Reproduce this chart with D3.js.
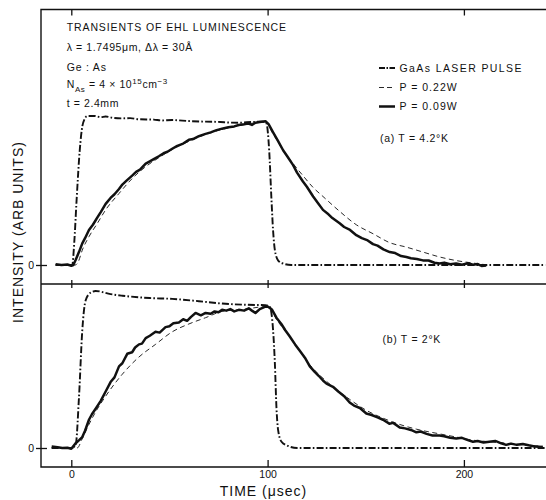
<!DOCTYPE html>
<html><head><meta charset="utf-8">
<script src="https://cdn.jsdelivr.net/npm/d3@7"></script>
<style>
html,body{margin:0;padding:0;background:#fff;}
text{font-family:"Liberation Sans",Arial,sans-serif;fill:#111;}
</style></head>
<body><svg id="c" width="546" height="500"></svg>
<script>
// ---- data (time in µsec, intensity in arbitrary units, laser peak ≈ 1) ----
const xTicks = [0, 100, 200];
const xTickLabels = ["0", "100", "200"];
const yTicks = [0];
const seriesNames = ["GaAs LASER PULSE", "P = 0.22W", "P = 0.09W"];

// panel (a) T = 4.2°K
const laserA = [[-8,0],[0,0],[0.5,0],[1.5,0.15],[2.7,0.436],[4.3,0.77],[5.6,0.93],[6.8,0.98],[8.1,1.0],[12,1.0],[15,0.992],[17.5,0.997],[21,0.988],[26,0.984],[30,0.986],[34.5,0.978],[42,0.976],[46,0.97],[51.4,0.973],[60,0.966],[68.4,0.962],[76,0.96],[80,0.956],[85.3,0.955],[92,0.96],[97.2,0.962],[99.4,0.95],[100.8,0.77],[102,0.43],[102.8,0.23],[103.7,0.1],[105.4,0.03],[107.9,0.01],[112,0],[160,0],[241.5,0]];
const p022A = [[-8,0],[0,0],[2,0],[3.5,0.02],[5.6,0.1],[9,0.19],[13.3,0.28],[17.5,0.37],[24.3,0.48],[31,0.58],[37.9,0.66],[44.6,0.72],[51.4,0.775],[59.9,0.83],[68.4,0.875],[76.8,0.91],[85.3,0.935],[93.8,0.955],[98.6,0.965],[102.8,0.88],[107.9,0.77],[113,0.68],[118,0.6],[123.2,0.52],[128.2,0.46],[136.7,0.36],[145.2,0.27],[153.7,0.21],[162.2,0.15],[170.7,0.12],[179.1,0.087],[187.6,0.054],[196,0.03],[204.6,0.013],[210,0.004]];
const p009A = [[-8,0.005],[-5,0],[-2,0.003],[0,-0.005],[1,0],[2.2,0.034],[4,0.09],[5.6,0.145],[7,0.18],[9,0.235],[11,0.27],[13.3,0.32],[15,0.355],[17.5,0.41],[20,0.45],[22,0.475],[24.3,0.51],[26,0.54],[28,0.565],[31,0.6],[33,0.625],[35,0.64],[37.9,0.68],[40,0.695],[42,0.71],[44.6,0.73],[47,0.75],[49,0.76],[51.4,0.78],[54,0.8],[57,0.815],[59.9,0.84],[62,0.845],[65,0.865],[68.4,0.88],[71,0.89],[74,0.905],[76.8,0.915],[80,0.925],[83,0.93],[85.3,0.94],[88,0.945],[90,0.95],[92,0.94],[93.8,0.955],[96,0.96],[98.9,0.965],[100.5,0.945],[102.8,0.89],[105,0.84],[107.9,0.77],[110,0.73],[113,0.67],[115,0.62],[118,0.56],[120,0.525],[123.2,0.46],[126,0.41],[128.2,0.37],[131,0.34],[133,0.315],[136.7,0.28],[139,0.255],[142,0.235],[145.2,0.2],[148,0.18],[151,0.165],[153.7,0.14],[156,0.13],[159,0.105],[162.2,0.087],[165,0.08],[168,0.06],[170.7,0.054],[173,0.045],[176,0.04],[179.1,0.031],[182,0.03],[185,0.015],[187.6,0.01],[190,0.016],[193,0.005],[196,0.01],[199,0.002],[202,0.012],[204.6,0.002],[207,0.006],[209,-0.006],[211.4,-0.004]];

// panel (b) T = 2°K
const laserB = [[-10,0],[0,0],[2.2,0.017],[3.9,0.32],[5.6,0.75],[7.3,0.94],[9.9,0.99],[12.4,1.0],[20,0.98],[26,0.97],[40,0.955],[51.4,0.95],[65,0.935],[76.8,0.92],[90,0.912],[98.9,0.91],[101.1,0.9],[102.8,0.75],[103.7,0.54],[104.5,0.26],[105.4,0.11],[107.1,0.04],[110.4,0.013],[115,0],[160,0],[241.5,0]];
const p022B = [[-10,0],[0,0],[3,0],[5.6,0.06],[9,0.15],[12.4,0.23],[17.5,0.33],[26,0.47],[34.5,0.58],[42.9,0.66],[51.4,0.74],[59.9,0.79],[68.4,0.83],[76.8,0.87],[88.8,0.885],[98.9,0.9],[100.3,0.9],[105,0.81],[111.3,0.71],[121.5,0.53],[133.3,0.39],[141.8,0.31],[150.3,0.24],[158.8,0.19],[167.3,0.15],[175.8,0.12],[187.6,0.09],[196.1,0.07],[204.6,0.05],[213,0.04],[221.5,0.03],[230,0.02],[240,0.012]];
const p009B = [[-10,0.01],[-7,0.005],[-4.6,0],[-2,0.002],[0,-0.005],[2.2,0.03],[4,0.05],[5.6,0.07],[7,0.11],[9,0.18],[10.5,0.215],[12.4,0.25],[15,0.3],[17.5,0.36],[20,0.42],[22,0.45],[24.3,0.52],[26,0.54],[28.5,0.6],[31,0.61],[32.5,0.64],[34.5,0.66],[36,0.665],[37.9,0.7],[40,0.715],[42.9,0.74],[45,0.735],[48,0.77],[50,0.775],[52,0.795],[54.8,0.8],[57,0.82],[59,0.81],[61,0.835],[63.3,0.86],[66,0.845],[68.4,0.86],[71,0.855],[73,0.87],[75,0.865],[76.8,0.88],[79,0.875],[81,0.885],[83,0.87],[85.3,0.88],[88,0.875],[90.4,0.89],[92,0.875],[93.8,0.86],[96,0.885],[98.9,0.9],[100.3,0.9],[102.3,0.88],[104.5,0.83],[107,0.79],[109,0.75],[111.3,0.71],[114,0.66],[116.4,0.62],[119,0.575],[121.5,0.52],[124,0.485],[126,0.46],[128.2,0.43],[130,0.41],[133.3,0.39],[136,0.36],[139,0.33],[141.8,0.29],[144,0.27],[147,0.255],[150.3,0.22],[153,0.21],[156,0.195],[158.8,0.18],[162,0.155],[164,0.16],[167.3,0.13],[170,0.125],[173,0.115],[175.8,0.1],[178,0.105],[181,0.09],[184,0.08],[187.6,0.08],[190,0.075],[193,0.065],[196.1,0.06],[199,0.065],[202,0.05],[204.6,0.04],[207,0.045],[210,0.035],[213,0.04],[216,0.045],[219,0.03],[221.5,0.02],[224,0.028],[227,0.02],[230,0.025],[233,0.017],[236,0.01],[240.2,0.006]];

// ---- layout ----
const svg = d3.select("#c");
const L = 41, R = 560, T = 9.5, MID = 284, B = 467;
const x = d3.scaleLinear().domain([0, 100]).range([71.3, 267.6]);
const yA = d3.scaleLinear().domain([0, 1]).range([265, 116]);
const yB = d3.scaleLinear().domain([0, 1]).range([448, 291]);
const ink = "#111";

// frame
const frame = svg.append("g").attr("stroke", ink).attr("stroke-width", 1.4).attr("fill", "none");
frame.append("path").attr("d", `M${R},${T}H${L}V${B}H${R}`);
frame.append("path").attr("d", `M${L},${MID}H${R}`);

// x axes
function styleAxis(g){ g.select(".domain").remove(); g.selectAll("line").attr("stroke", ink).attr("stroke-width", 1.3); g.selectAll("text").attr("fill", ink).style("font-size", "10.5px").style("font-family", '"Liberation Sans",Arial,sans-serif'); }
svg.append("g").attr("transform", `translate(0,${T})`)
  .call(d3.axisTop(x).tickValues(xTicks).tickSize(-6).tickFormat(""))
  .call(styleAxis);
svg.append("g").attr("transform", `translate(0,${MID + 4})`)
  .call(d3.axisBottom(x).tickValues(xTicks).tickSize(-8).tickFormat(""))
  .call(styleAxis);
svg.append("g").attr("transform", `translate(0,${B})`)
  .call(d3.axisBottom(x).tickValues(xTicks).tickSizeInner(-7).tickSizeOuter(0).tickPadding(3).tickFormat((d, i) => xTickLabels[i]))
  .call(styleAxis)
  .call(g => g.selectAll("text").attr("y", 10.5).attr("dy", "0"));

// y axes (zero marks)
[yA, yB].forEach(y => {
  svg.append("g").attr("transform", `translate(${L + 6},0)`)
    .call(d3.axisLeft(y).tickValues(yTicks).tickSize(11).tickPadding(2).tickFormat(d3.format("d")))
    .call(styleAxis);
});

// lines
const lineA = d3.line().x(d => x(d[0])).y(d => yA(d[1]));
const lineB = d3.line().x(d => x(d[0])).y(d => yB(d[1]));
const smoothA = d3.line().x(d => x(d[0])).y(d => yA(d[1])).curve(d3.curveMonotoneX);
const smoothB = d3.line().x(d => x(d[0])).y(d => yB(d[1])).curve(d3.curveMonotoneX);

const styles = [
  {w: 1.9, dash: "7,2.2,1.6,2.2"},
  {w: 0.9, dash: "5,3.5"},
  {w: 2.5, dash: null}
];
function draw(data, gen, s){
  const p = svg.append("path").datum(data).attr("d", gen).attr("fill", "none")
    .attr("stroke", ink).attr("stroke-width", s.w).attr("stroke-linejoin", "round").attr("stroke-linecap", "butt");
  if (s.dash) p.attr("stroke-dasharray", s.dash);
}
draw(p009A, lineA, styles[2]);
draw(p022A, smoothA, styles[1]);
draw(laserA, smoothA, styles[0]);
draw(p009B, lineB, styles[2]);
draw(p022B, smoothB, styles[1]);
draw(laserB, smoothB, styles[0]);

// legend
const legY = [68, 87.5, 106.5];
seriesNames.forEach((n, i) => {
  const p = svg.append("line").attr("x1", 379).attr("x2", 395).attr("y1", legY[i]).attr("y2", legY[i])
    .attr("stroke", ink).attr("stroke-width", styles[i].w);
  if (i === 0) p.attr("stroke-dasharray", "6,1.5,1.5,1.5");
  if (i === 1) p.attr("stroke-dasharray", "5,3");
  svg.append("text").attr("x", 399.5).attr("y", legY[i] + 3.8).style("font-size", "10.5px")
    .style("letter-spacing", i === 0 ? "1.4px" : "1px").text(n);
});

// annotations
function txt(xp, yp, s, size, ls){ return svg.append("text").attr("x", xp).attr("y", yp).style("font-size", size + "px").style("letter-spacing", ls + "px").text(s); }
txt(66.7, 30.7, "TRANSIENTS OF EHL LUMINESCENCE", 10.5, 0.9);
txt(66.7, 50.7, "λ = 1.7495μm,  Δλ = 30Å", 10.5, 0.6);
txt(66.7, 70.7, "Ge : As", 10.5, 0.8);
const n = svg.append("text").attr("x", 66.7).attr("y", 88.3).style("font-size", "10.5px").style("letter-spacing", "0.6px");
n.append("tspan").text("N");
n.append("tspan").attr("dy", 3.5).style("font-size", "8px").text("As");
n.append("tspan").attr("dy", -3.5).text(" = 4 × 10");
n.append("tspan").attr("dy", -4).style("font-size", "8px").text("15");
n.append("tspan").attr("dy", 4).text("cm");
n.append("tspan").attr("dy", -4).style("font-size", "8px").text("−3");
txt(66.7, 106.7, "t = 2.4mm", 10.5, 0.6);
txt(380, 142.3, "(a)  T = 4.2°K", 10.5, 0.7);
txt(382.5, 343.3, "(b)  T = 2°K", 10.5, 0.7);

// axis titles
svg.append("text").attr("transform", "translate(23,232) rotate(-90)").attr("text-anchor", "middle")
  .style("font-size", "14px").style("letter-spacing", "1px").text("INTENSITY (ARB UNITS)");
svg.append("text").attr("x", 263.5).attr("y", 496).attr("text-anchor", "middle")
  .style("font-size", "14px").style("letter-spacing", "1px").text("TIME (μsec)");
</script></body></html>
